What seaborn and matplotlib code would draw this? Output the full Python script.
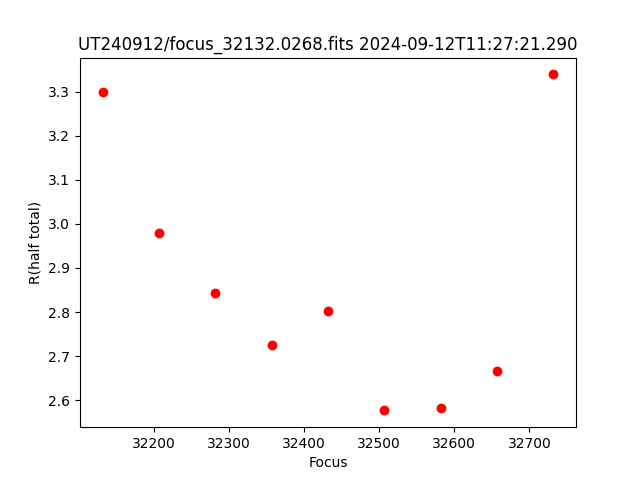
import matplotlib
matplotlib.use("Agg")
import matplotlib.pyplot as plt
import seaborn as sns
import pandas as pd

focus = [32132, 32207, 32282, 32357, 32432, 32507, 32582, 32657, 32732]
r_half = [3.298, 2.979, 2.843, 2.725, 2.802, 2.577, 2.582, 2.666, 3.339]

df = pd.DataFrame({"Focus": focus, "R(half total)": r_half})

fig, ax = plt.subplots(figsize=(6.4, 4.8), dpi=100)
sns.scatterplot(data=df, x="Focus", y="R(half total)", color="red",
                s=50, linewidth=0, ax=ax)
ax.set_title("UT240912/focus_32132.0268.fits 2024-09-12T11:27:21.290")
fig.savefig("out.png", dpi=100)
